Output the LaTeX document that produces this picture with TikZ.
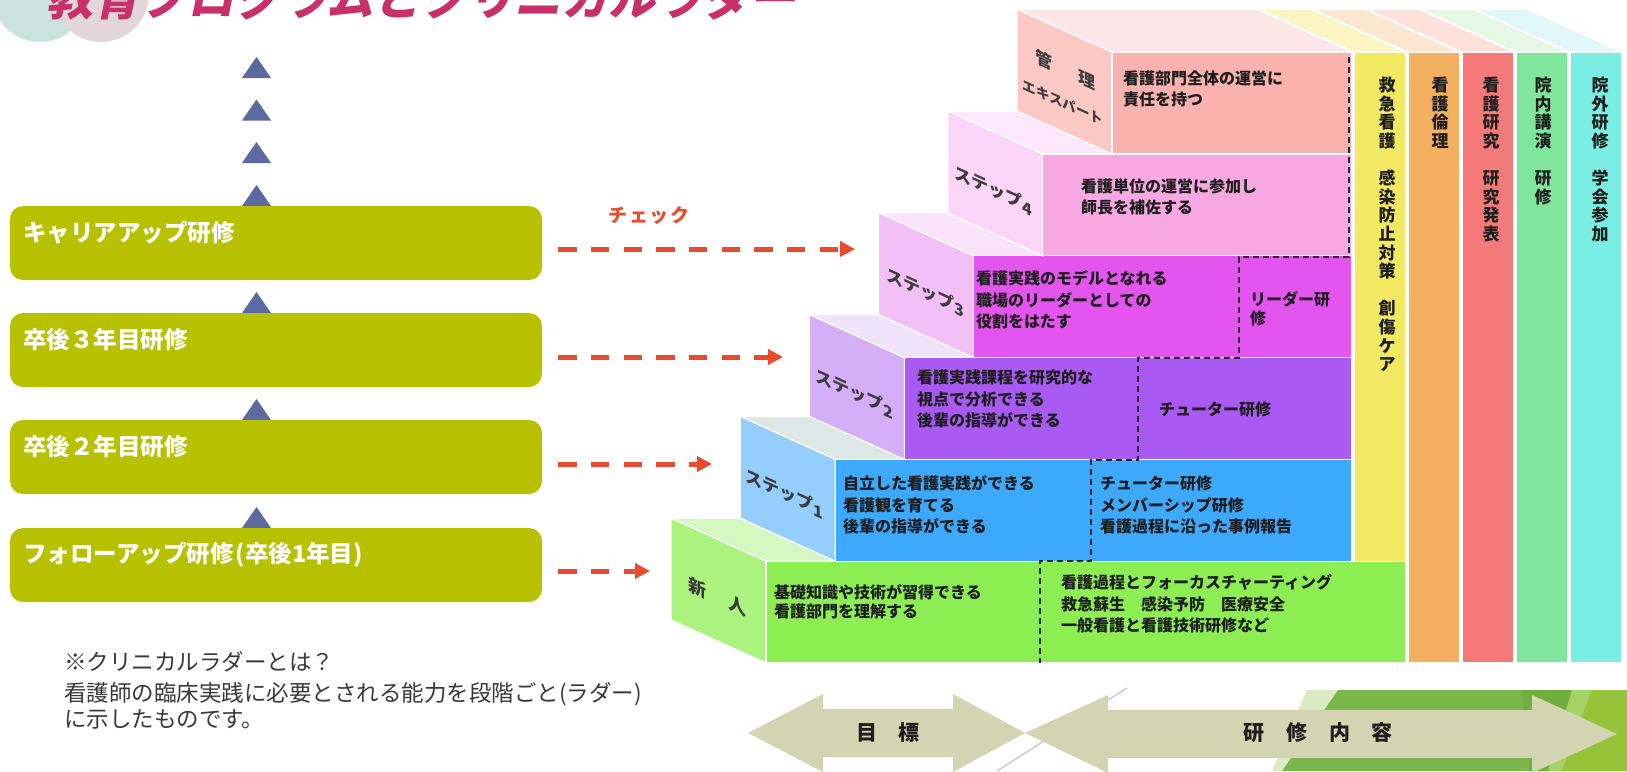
\documentclass[tikz,border=0pt]{standalone}
\usepackage{fontspec}
\newfontfamily\jp{Noto Sans CJK JP}
\usetikzlibrary{arrows.meta}
\definecolor{olive}{HTML}{B8C100}
\definecolor{triblue}{HTML}{5B6AA0}
\definecolor{chkred}{HTML}{E84B2E}
\definecolor{titlered}{HTML}{C8306A}
\definecolor{mint}{HTML}{CAE4DD}
\definecolor{rosegray}{HTML}{E2D6DA}
\definecolor{arrowkhaki}{HTML}{D3D4B2}
\definecolor{txt}{HTML}{1E1E1E}
\definecolor{sidetxt}{HTML}{3C3C3C}
% step colours: front / side / top
\definecolor{f0}{HTML}{8CEE52}\definecolor{s0}{HTML}{ABF27F}\definecolor{t0}{HTML}{D5F7C0}
\definecolor{f1}{HTML}{3DA9FC}\definecolor{s1}{HTML}{94CEFC}\definecolor{t1}{HTML}{DCE8E8}
\definecolor{f2}{HTML}{A85AF2}\definecolor{s2}{HTML}{D5AEF8}\definecolor{t2}{HTML}{EFE2FB}
\definecolor{f3}{HTML}{E455F0}\definecolor{s3}{HTML}{F3BFF7}\definecolor{t3}{HTML}{F9E3FA}
\definecolor{f4}{HTML}{F8A8E0}\definecolor{s4}{HTML}{FBD5F8}\definecolor{t4}{HTML}{FDE8FB}
\definecolor{f5}{HTML}{F9B2AE}\definecolor{s5}{HTML}{FBC8C4}\definecolor{t5}{HTML}{FDE7E6}
% columns
\definecolor{cy}{HTML}{F2E862}\definecolor{cyt}{HTML}{FAF5C2}
\definecolor{co}{HTML}{F2B060}\definecolor{cot}{HTML}{FBE7D0}
\definecolor{cr}{HTML}{F47A7A}\definecolor{crt}{HTML}{FDE1DA}
\definecolor{cg}{HTML}{80E69C}\definecolor{cgt}{HTML}{E4F8E4}
\definecolor{cc}{HTML}{7AEEE2}\definecolor{cct}{HTML}{E1F7FA}
% bottom greens
\definecolor{lgreen}{HTML}{DCEBC4}
\definecolor{mgreen}{HTML}{7AB64A}
\definecolor{dgreen}{HTML}{6FAF40}
\definecolor{lime2}{HTML}{A6D366}
\definecolor{lime}{HTML}{95C43A}

\begin{document}
\begin{tikzpicture}[x=1pt,y=-1pt,
  lbox/.style={fill=olive, rounded corners=13pt, minimum width=532pt, minimum height=74pt, inner sep=0pt, draw=none},
  ltext/.style={text=white, font=\jp\bfseries\fontsize{23.5}{26}\selectfont, anchor=west, inner sep=0pt},
  tri/.style={fill=triblue},
  chk/.style={draw=chkred, line width=5pt, dash pattern=on 18.3pt off 14.4pt, shorten <=16pt, -{Triangle[length=15pt,width=15pt]}},
  face/.style={draw=white, line width=1.2pt},
  st/.style={font=\jp\bfseries\fontsize{16}{21.5}\selectfont, text=txt, align=left, anchor=west, inner sep=0pt},
  vt/.style={font=\jp\bfseries\fontsize{17}{18.6}\selectfont, text=txt, align=center, anchor=north, inner sep=0pt},
  side/.style={font=\jp\bfseries\fontsize{17}{20}\selectfont, text=sidetxt, yslant=-0.4526, anchor=center, inner sep=0pt},
  btxt/.style={font=\jp\bfseries\fontsize{21}{24}\selectfont, text=txt, anchor=center, inner sep=0pt},
  dig/.style={}
]
\useasboundingbox (0,0) rectangle (1627,771);
\clip (0,0) rectangle (1627,771);

% ---- decoration top left and title
\fill[mint] (40,-6) circle (48);
\fill[rosegray] (101,-6) circle (48);
\node[anchor=base west, inner sep=0pt, text=titlered, xslant=0.2,
      font=\jp\bfseries\fontsize{47}{50}\selectfont] (title) at (46,15) {教育プログラムとクリニカルラダー};

% ---- left column
\foreach \b in {78,120.5,163,206,313,420,528}{
  \fill[tri] (242,\b) -- (256.5,\b-21) -- (271,\b) -- cycle;
}
\node[lbox] (b1) at (276,243) {};
\node[lbox] (b2) at (276,350) {};
\node[lbox] (b3) at (276,457) {};
\node[lbox] (b4) at (276,565) {};
\node[ltext] (l1) at (23,233) {キャリアアップ研修};
\node[ltext] (l2) at (23,340) {卒後３年目研修};
\node[ltext] (l3) at (23,447) {卒後２年目研修};
\node[ltext] (l4) at (23,555) {フォローアップ研修\hspace{2pt}(卒後1年目)};

\coordinate (e1) at (855,249);
\coordinate (e2) at (783,357);
\coordinate (e3) at (712,464);
\coordinate (e4) at (650,571);
\draw[chk] (b1.east |- e1) -- (e1);
\draw[chk] (b2.east |- e2) -- (e2);
\draw[chk] (b3.east |- e3) -- (e3);
\draw[chk] (b4.east |- e4) -- (e4);
\node[text=chkred, font=\jp\bfseries\fontsize{19}{20}\selectfont, inner sep=0pt] (chk) at (649,216) {チ\hspace{2pt}ェ\hspace{2pt}ッ\hspace{2pt}ク};

\node[font=\jp\fontsize{22.5}{25.5}\selectfont, text=black!78, align=left, anchor=north west, inner sep=0pt] (note) at (64,651)
  {※クリニカルラダーとは？\\[6pt]看護師の臨床実践に必要とされる能力を段階ごと(ラダー)\\に示したものです。};

% ---- columns
\fill[face,fill=cyt] (1354,52.2) -- (1259,9.2) -- (1311,9.2) -- (1406,52.2) -- cycle;
\fill[face,fill=cot] (1408,52.2) -- (1313,9.2) -- (1365,9.2) -- (1460,52.2) -- cycle;
\fill[face,fill=crt] (1462,52.2) -- (1367,9.2) -- (1419,9.2) -- (1514,52.2) -- cycle;
\fill[face,fill=cgt] (1516,52.2) -- (1421,9.2) -- (1473,9.2) -- (1568,52.2) -- cycle;
\fill[face,fill=cct] (1570,52.2) -- (1475,9.2) -- (1527,9.2) -- (1622,52.2) -- cycle;
\filldraw[face,fill=cy] (1354,52.2) rectangle (1406,561.2);
\filldraw[face,fill=co] (1408,52.2) rectangle (1460,663);
\filldraw[face,fill=cr] (1462,52.2) rectangle (1514,663);
\filldraw[face,fill=cg] (1516,52.2) rectangle (1568,663);
\filldraw[face,fill=cc] (1570,52.2) rectangle (1622,663);

% ---- steps (0 = 新人 ... 5 = 管理)
% step 0
\filldraw[face,fill=t0] (766,561.2) -- (671,518.2) -- (740.2,518.2) -- (835.2,561.2) -- cycle;
\filldraw[face,fill=s0] (766,561.2) -- (671,518.2) -- (671,620) -- (766,663) -- cycle;
\filldraw[face,fill=f0] (766,561.2) rectangle (1406,663);
% step 1
\filldraw[face,fill=t1] (835.2,459.4) -- (740.2,416.4) -- (809.4,416.4) -- (904.4,459.4) -- cycle;
\filldraw[face,fill=s1] (835.2,459.4) -- (740.2,416.4) -- (740.2,518.2) -- (835.2,561.2) -- cycle;
\filldraw[face,fill=f1] (835.2,459.4) rectangle (1352,561.2);
% step 2
\filldraw[face,fill=t2] (904.4,357.6) -- (809.4,314.6) -- (878.6,314.6) -- (973.6,357.6) -- cycle;
\filldraw[face,fill=s2] (904.4,357.6) -- (809.4,314.6) -- (809.4,416.4) -- (904.4,459.4) -- cycle;
\filldraw[face,fill=f2] (904.4,357.6) rectangle (1352,459.4);
% step 3
\filldraw[face,fill=t3] (973.6,255.8) -- (878.6,212.8) -- (947.8,212.8) -- (1042.8,255.8) -- cycle;
\filldraw[face,fill=s3] (973.6,255.8) -- (878.6,212.8) -- (878.6,314.6) -- (973.6,357.6) -- cycle;
\filldraw[face,fill=f3] (973.6,255.8) rectangle (1352,357.6);
% step 4
\filldraw[face,fill=t4] (1042.8,154) -- (947.8,111) -- (1017,111) -- (1112,154) -- cycle;
\filldraw[face,fill=s4] (1042.8,154) -- (947.8,111) -- (947.8,212.8) -- (1042.8,255.8) -- cycle;
\filldraw[face,fill=f4] (1042.8,154) rectangle (1352,255.8);
% step 5
\filldraw[face,fill=t5] (1112,52.2) -- (1017,9.2) -- (1257,9.2) -- (1352,52.2) -- cycle;
\filldraw[face,fill=s5] (1112,52.2) -- (1017,9.2) -- (1017,111) -- (1112,154) -- cycle;
\filldraw[face,fill=f5] (1112,52.2) rectangle (1352,154);

% dashed divider
\draw[black!85, line width=1.6pt, dash pattern=on 6pt off 4pt]
  (1349,57) -- (1349,257) -- (1239,257) -- (1239,358) -- (1138,358) -- (1138,460)
  -- (1091,460) -- (1091,561) -- (1040,561) -- (1040,663);

% side labels
\node[side] (sl5a) at (1065,70) {管\hspace{26pt}理};
\node[side, font=\jp\bfseries\fontsize{13.5}{15}\selectfont] (sl5b) at (1063,102) {エキスパート};
\node[side] (sl4) at (993,190) {ステップ\raisebox{-3pt}{\fontsize{16}{16}\selectfont 4}};
\node[side] (sl3) at (925,292) {ステップ\raisebox{-3pt}{\fontsize{16}{16}\selectfont 3}};
\node[side] (sl2) at (854,393) {ステップ\raisebox{-3pt}{\fontsize{16}{16}\selectfont 2}};
\node[side] (sl1) at (784,493) {ステップ\raisebox{-3pt}{\fontsize{16}{16}\selectfont 1}};
\node[side, font=\jp\bfseries\fontsize{18}{20}\selectfont] (sl0) at (717,597) {新\hspace{22pt}人};

% front texts
\node[st] (g5) at (1123,89) {看護部門全体の運営に\\責任を持つ};
\node[st] (g4) at (1081,197) {看護単位の運営に参加し\\師長を補佐する};
\node[st] (g3) at (976,300) {看護実践のモデルとなれる\\職場のリーダーとしての\\役割をはたす};
\node[st, font=\jp\bfseries\fontsize{16}{19}\selectfont] (k3) at (1250,309) {リーダー研\\修};
\node[st] (g2) at (917,399) {看護実践課程を研究的な\\視点で分析できる\\後輩の指導ができる};
\node[st] (k2) at (1159,409) {チューター研修};
\node[st] (g1) at (843,505) {自立した看護実践ができる\\看護観を育てる\\後輩の指導ができる};
\node[st] (k1) at (1100,505) {チューター研修\\メンバーシップ研修\\看護過程に沿った事例報告};
\node[st, font=\jp\bfseries\fontsize{16}{19.5}\selectfont] (g0) at (774,602) {基礎知識や技術が習得できる\\看護部門を理解する};
\node[st] (k0) at (1061,604) {看護過程とフォーカスチャーティング\\救急蘇生　感染予防　医療安全\\一般看護と看護技術研修など};

% column texts
\node[vt] (v1) at (1387,77) {救\\急\\看\\護\\　\\感\\染\\防\\止\\対\\策\\　\\創\\傷\\ケ\\ア};
\node[vt] (v2) at (1440,77) {看\\護\\倫\\理};
\node[vt] (v3) at (1491,77) {看\\護\\研\\究\\　\\研\\究\\発\\表};
\node[vt] (v4) at (1543,77) {院\\内\\講\\演\\　\\研\\修};
\node[vt] (v5) at (1600,77) {院\\外\\研\\修\\　\\学\\会\\参\\加};

% ---- bottom
\draw[black!20, line width=1.5pt] (1127,688) -- (997,771);
\fill[lgreen] (1307,690) -- (1338,690) -- (1282,771) -- (1272,771) -- cycle;
\fill[mgreen] (1338,690) -- (1627,690) -- (1627,771) -- (1282,771) -- cycle;
\fill[dgreen] (1522,690) -- (1572,690) -- (1562,771) -- (1530,771) -- cycle;
\fill[lime2] (1572,690) -- (1592,690) -- (1562,771) -- (1548,771) -- cycle;
\fill[lime] (1592,690) -- (1627,690) -- (1627,771) -- (1562,771) -- cycle;

\fill[arrowkhaki] (748,733) -- (823,694) -- (823,709) -- (953,709) -- (953,694) -- (1025,733)
  -- (953,772) -- (953,757) -- (823,757) -- (823,772) -- cycle;
\fill[arrowkhaki] (1025,733) -- (1108,695) -- (1108,710) -- (1532,710) -- (1532,695) -- (1617,734)
  -- (1532,773) -- (1532,758) -- (1108,758) -- (1108,773) -- cycle;
\node[btxt] (goal) at (888,733) {目\hspace{22pt}標};
\node[btxt] (cont) at (1318,733) {研\hspace{22pt}修\hspace{22pt}内\hspace{22pt}容};
\end{tikzpicture}
\end{document}
